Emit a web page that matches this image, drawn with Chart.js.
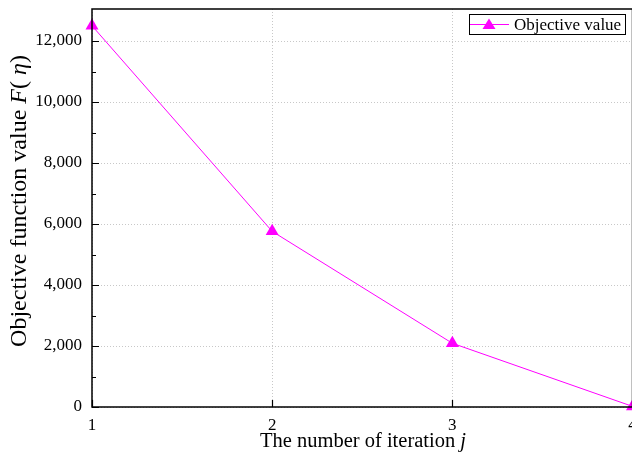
<!DOCTYPE html>
<html>
<head>
<meta charset="utf-8">
<script src="https://cdn.jsdelivr.net/npm/chart.js@4.4.0/dist/chart.umd.min.js"></script>
<style>
  html, body { margin: 0; padding: 0; background: #fff; overflow: hidden; width: 632px; height: 455px; }
  #wrap { width: 632px; height: 455px; overflow: hidden; }
  #chart { display: block; }
</style>
</head>
<body>
<div id="wrap"><canvas id="chart" width="640" height="455"></canvas></div>
<script>
// chart data
const iterations = [1, 2, 3, 4];
const objectiveValues = [12500, 5760, 2090, 20];
const yTickValues = [0, 2000, 4000, 6000, 8000, 10000, 12000];
const yMinorValues = [1000, 3000, 5000, 7000, 9000, 11000];
const seriesLabel = 'Objective value';

const SERIF = "'Liberation Serif', 'Times New Roman', serif";
const MAGENTA = '#ff00ff';

// draws frame, inward ticks, legend and the axis titles (with italic parts)
const decorations = {
    id: 'decorations',
    afterDraw(chart) {
        const ctx = chart.ctx;
        const a = chart.chartArea;
        const x = chart.scales.x, y = chart.scales.y;
        ctx.save();
        ctx.strokeStyle = '#000';
        ctx.lineWidth = 1.5;
        ctx.strokeRect(a.left, a.top, a.right - a.left, a.bottom - a.top);

        ctx.lineWidth = 1.2;
        ctx.beginPath();
        yTickValues.forEach(v => {
            const py = Math.round(y.getPixelForValue(v)) + 0.5;
            ctx.moveTo(a.left, py); ctx.lineTo(a.left + 7, py);
        });
        yMinorValues.forEach(v => {
            const py = Math.round(y.getPixelForValue(v)) + 0.5;
            ctx.moveTo(a.left, py); ctx.lineTo(a.left + 4, py);
        });
        iterations.forEach(v => {
            const px = Math.round(x.getPixelForValue(v)) + 0.5;
            ctx.moveTo(px, a.bottom); ctx.lineTo(px, a.bottom - 7);
        });
        ctx.stroke();

        // legend
        const lx = 469, ly = 14, lw = 156, lh = 20;
        ctx.fillStyle = '#fff';
        ctx.fillRect(lx, ly, lw, lh);
        ctx.lineWidth = 1;
        ctx.strokeStyle = '#000';
        ctx.strokeRect(lx + 0.5, ly + 0.5, lw, lh);
        const cy = ly + lh / 2 + 0.5;
        ctx.strokeStyle = MAGENTA;
        ctx.beginPath();
        ctx.moveTo(lx + 1, cy); ctx.lineTo(lx + 40, cy);
        ctx.stroke();
        ctx.fillStyle = MAGENTA;
        ctx.beginPath();
        ctx.moveTo(lx + 20, cy - 6);
        ctx.lineTo(lx + 26.5, cy + 4.5);
        ctx.lineTo(lx + 13.5, cy + 4.5);
        ctx.closePath();
        ctx.fill();
        ctx.fillStyle = '#000';
        ctx.font = '17px ' + SERIF;
        ctx.textBaseline = 'middle';
        ctx.textAlign = 'left';
        ctx.fillText(seriesLabel, lx + 45, cy + 1);

        // axis titles
        const drawParts = (parts, cx, cyy, size) => {
            let total = 0;
            parts.forEach(p => {
                ctx.font = (p[1] ? 'italic ' : '') + size + 'px ' + SERIF;
                total += ctx.measureText(p[0]).width;
            });
            let px = cx - total / 2;
            parts.forEach(p => {
                ctx.font = (p[1] ? 'italic ' : '') + size + 'px ' + SERIF;
                ctx.fillText(p[0], px, cyy);
                px += ctx.measureText(p[0]).width;
            });
        };
        ctx.textBaseline = 'middle';
        drawParts([['The number of iteration ', false], ['j', true]], 363, 442, 20.5);
        ctx.translate(20, 201);
        ctx.rotate(-Math.PI / 2);
        drawParts([['Objective function value ', false], ['F', true], ['( ', false], ['\u03B7', true], [')', false]], 0, 0, 24);
        ctx.restore();
    }
};

new Chart(document.getElementById('chart'), {
    type: 'line',
    data: {
        datasets: [{
            label: seriesLabel,
            data: iterations.map((it, i) => ({ x: it, y: objectiveValues[i] })),
            borderColor: MAGENTA,
            backgroundColor: MAGENTA,
            borderWidth: 1,
            pointStyle: 'triangle',
            pointRadius: 7.5,
            pointBorderWidth: 0,
            tension: 0
        }]
    },
    options: {
        responsive: false,
        animation: false,
        clip: false,
        layout: { padding: { top: 9, right: 7, left: 0, bottom: 0 } },
        plugins: { legend: { display: false }, tooltip: { enabled: false } },
        scales: {
            x: {
                type: 'linear',
                min: 1,
                max: 4,
                afterFit(s) { s.height = 48; s.paddingLeft = 0; s.paddingRight = 0; },
                ticks: {
                    stepSize: 1,
                    padding: 8,
                    color: '#000',
                    font: { family: SERIF, size: 17 }
                },
                grid: { color: '#c8c8c8', lineWidth: 1, drawTicks: false },
                border: { display: false, dash: [1, 2] }
            },
            y: {
                min: 0,
                max: 13050,
                afterFit(s) { s.width = 92; s.paddingTop = 0; s.paddingBottom = 0; },
                afterBuildTicks(s) { s.ticks = yTickValues.map(v => ({ value: v })); },
                ticks: {
                    padding: 10,
                    color: '#000',
                    font: { family: SERIF, size: 17 },
                    callback: v => v.toLocaleString('en-US')
                },
                grid: { color: '#c8c8c8', lineWidth: 1, drawTicks: false },
                border: { display: false, dash: [1, 2] }
            }
        }
    },
    plugins: [decorations]
});
</script>
</body>
</html>
